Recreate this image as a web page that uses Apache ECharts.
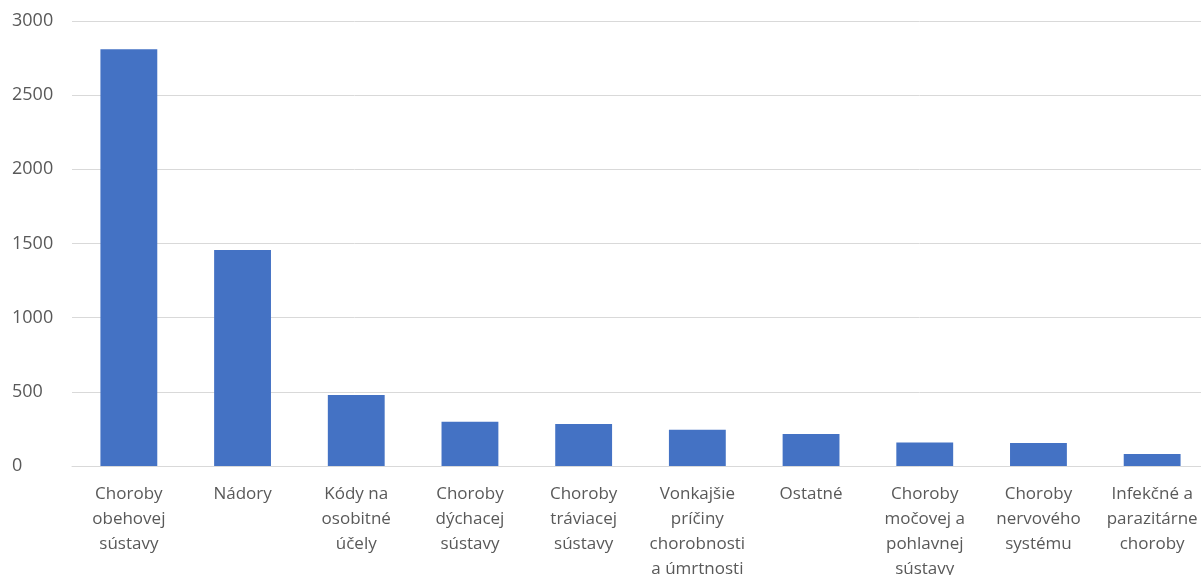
<!DOCTYPE html>
<html>
<head>
<meta charset="utf-8">
<script src="https://cdn.jsdelivr.net/npm/echarts@6/dist/echarts.min.js"></script>
<style>
  html, body { margin: 0; padding: 0; background: #fff; }
  #chart { width: 1201px; height: 575px; }
</style>
</head>
<body>
<div id="chart"></div>
<script>
// Causes of death – category names (line breaks as wrapped under each bar)
const categories = [
  'Choroby\nobehovej\nsústavy',
  'Nádory',
  'Kódy na\nosobitné\núčely',
  'Choroby\ndýchacej\nsústavy',
  'Choroby\ntráviacej\nsústavy',
  'Vonkajšie\npríčiny\nchorobnosti\na úmrtnosti',
  'Ostatné',
  'Choroby\nmočovej a\npohlavnej\nsústavy',
  'Choroby\nnervového\nsystému',
  'Infekčné a\nparazitárne\nchoroby'
];

// Number of deaths per category
const deaths = [2810, 1456, 478, 298, 283, 244, 215, 159, 155, 81];

// Value axis ticks
const yTicks = [0, 500, 1000, 1500, 2000, 2500, 3000];

const chart = echarts.init(document.getElementById('chart'), null, { renderer: 'canvas' });

const textColor = '#595959';
const fontFamily = '"Open Sans", "Noto Sans", sans-serif';

chart.setOption({
  animation: false,
  grid: {
    left: 72, right: -8, top: 21, bottom: 109,
    containLabel: false,
    outerBoundsMode: 'none'
  },
  xAxis: {
    type: 'category',
    data: categories,
    axisLine: { show: true, lineStyle: { color: '#d9d9d9', width: 1 } },
    axisTick: { show: false },
    axisLabel: {
      interval: 0,
      color: textColor,
      fontFamily: fontFamily,
      fontSize: 17,
      lineHeight: 25,
      margin: 16,
      align: 'center'
    }
  },
  yAxis: {
    type: 'value',
    min: yTicks[0],
    max: yTicks[yTicks.length - 1],
    interval: yTicks[1] - yTicks[0],
    axisLine: { show: false },
    axisTick: { show: false },
    splitLine: { show: true, lineStyle: { color: '#d9d9d9', width: 1 } },
    axisLabel: {
      color: textColor,
      fontFamily: fontFamily,
      fontSize: 18,
      margin: 60,
      align: 'left',
      formatter: (v) => String(v)
    }
  },
  series: [{
    type: 'bar',
    data: deaths,
    barWidth: '50%',
    itemStyle: { color: '#4472C4' }
  }]
});
</script>
</body>
</html>
